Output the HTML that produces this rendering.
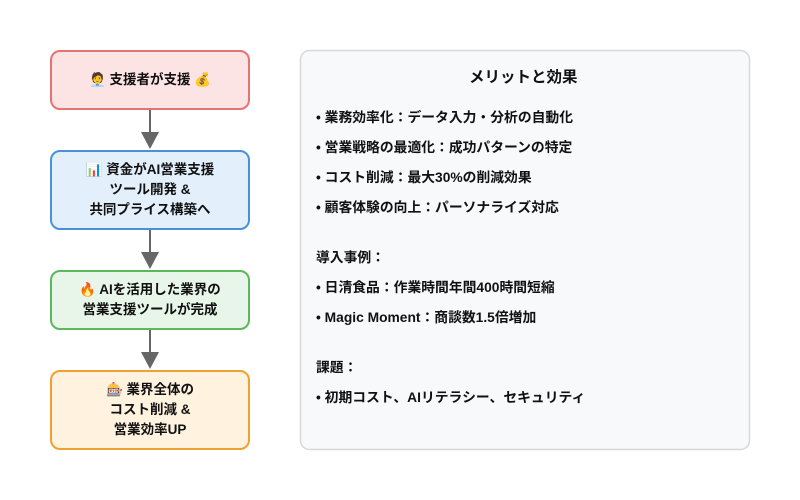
<!DOCTYPE html>
<html><head><meta charset="utf-8"><style>
body{margin:0;width:800px;height:500px;background:#fff;font-family:"Liberation Sans","Noto Sans CJK JP",sans-serif;font-weight:bold;color:#111;position:relative;overflow:hidden}
.b{position:absolute;left:50px;width:196px;border:2px solid;border-radius:10px;display:flex;align-items:center;justify-content:center;text-align:center;font-size:13.5px;line-height:20px}
.t{position:absolute;left:316px;font-size:13.8px;white-space:nowrap}
</style></head><body>
<div class="b" style="top:50px;height:56px;background:#fde4e4;border-color:#e57373">🧑‍💼 支援者が支援 💰</div>
<div class="b" style="top:150px;height:76px;background:#e3f0fc;border-color:#4a90d9">📊 資金がAI営業支援<br>ツール開発 &amp;<br>共同プライス構築へ</div>
<div class="b" style="top:270px;height:56px;background:#e8f5e9;border-color:#5cb85c">🔥 AIを活用した業界の<br>営業支援ツールが完成</div>
<div class="b" style="top:370px;height:76px;background:#fff3e0;border-color:#f0a030">🎰 業界全体の<br>コスト削減 &amp;<br>営業効率UP</div>
<svg width="800" height="500" style="position:absolute;left:0;top:0">
<g fill="#666" stroke="#666" stroke-width="2">
<line x1="150" y1="110" x2="150" y2="136"/><polygon points="141,132 159,132 150,149" stroke="none"/>
<line x1="150" y1="230" x2="150" y2="256"/><polygon points="141,252 159,252 150,269" stroke="none"/>
<line x1="150" y1="330" x2="150" y2="356"/><polygon points="141,352 159,352 150,369" stroke="none"/>
</g>
<rect x="300.5" y="50.5" width="449" height="399" rx="9" fill="#f8f9fa" stroke="#d8d8d8" stroke-width="1.5"/>
</svg>
<div class="t" style="top:65px;left:469px;font-size:15.5px">メリットと効果</div>
<div class="t" style="top:106px">• 業務効率化：データ入力・分析の自動化</div>
<div class="t" style="top:136px">• 営業戦略の最適化：成功パターンの特定</div>
<div class="t" style="top:166px">• コスト削減：最大30%の削減効果</div>
<div class="t" style="top:196px">• 顧客体験の向上：パーソナライズ対応</div>
<div class="t" style="top:246px">導入事例：</div>
<div class="t" style="top:276px">• 日清食品：作業時間年間400時間短縮</div>
<div class="t" style="top:306px">• Magic Moment：商談数1.5倍増加</div>
<div class="t" style="top:356px">課題：</div>
<div class="t" style="top:386px">• 初期コスト、AIリテラシー、セキュリティ</div>
</body></html>
